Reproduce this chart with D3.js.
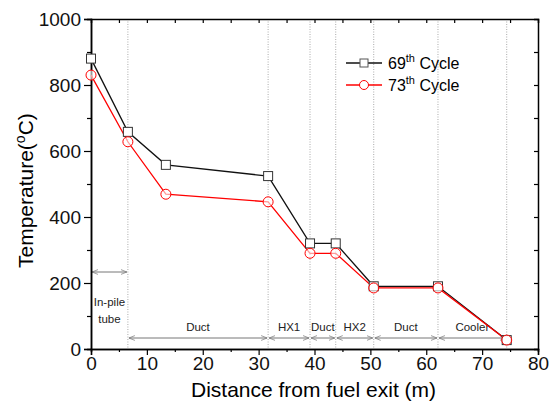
<!DOCTYPE html>
<html>
<head>
<meta charset="utf-8">
<script src="https://cdn.jsdelivr.net/npm/d3@7"></script>
<style>
  body { margin: 0; background: #fff; }
  text { font-family: "Liberation Sans", Arial, sans-serif; }
</style>
</head>
<body>
<script>
// data
var distance = [0, 6.6, 13.4, 31.7, 39.2, 43.8, 50.6, 62.1, 74.4];
var cycle69 = [880, 658, 558, 524, 320, 320, 190, 190, 27];
var cycle73 = [830, 628, 469, 446, 290, 290, 185, 185, 27];
var boundaries = [6.6, 31.7, 39.2, 43.8, 50.6, 62.1, 74.4];
var sections = [
  {from: 6.6, to: 31.7, label: "Duct"},
  {from: 31.7, to: 39.2, label: "HX1"},
  {from: 39.2, to: 43.8, label: "Duct"},
  {from: 43.8, to: 50.6, label: "HX2"},
  {from: 50.6, to: 62.1, label: "Duct"},
  {from: 62.1, to: 74.4, label: "Cooler"}
];
var xTicks = [0, 10, 20, 30, 40, 50, 60, 70, 80];
var yTicks = [0, 200, 400, 600, 800, 1000];

var width = 549, height = 405;
var margin = {left: 91, right: 11, top: 19, bottom: 56};

var svg = d3.select("body").append("svg")
    .attr("width", width)
    .attr("height", height);

svg.append("defs").append("marker")
    .attr("id", "ah")
    .attr("viewBox", "0 0 10 10")
    .attr("refX", 10).attr("refY", 5)
    .attr("markerWidth", 6).attr("markerHeight", 6)
    .attr("orient", "auto-start-reverse")
    .append("path")
    .attr("d", "M0,1 L10,5 L0,9")
    .attr("fill", "none")
    .attr("stroke", "#777")
    .attr("stroke-width", 1.2);

var x = d3.scaleLinear().domain([0, 80]).range([margin.left, width - margin.right]);
var y = d3.scaleLinear().domain([0, 1000]).range([height - margin.bottom, margin.top]);

// dotted boundaries
svg.append("g").selectAll("line")
    .data(boundaries)
    .enter().append("line")
    .attr("x1", function(d){ return x(d) }).attr("x2", function(d){ return x(d) })
    .attr("y1", y(1000)).attr("y2", y(0))
    .attr("stroke", "#aaa")
    .attr("stroke-width", 1)
    .attr("stroke-dasharray", "1,1.5");

// section arrows
var ann = svg.append("g");
ann.selectAll("line")
    .data(sections)
    .enter().append("line")
    .attr("x1", function(d){ return x(d.from) + 1 })
    .attr("x2", function(d){ return x(d.to) - 1 })
    .attr("y1", 338).attr("y2", 338)
    .attr("stroke", "#777")
    .attr("stroke-width", 1)
    .attr("marker-start", "url(#ah)")
    .attr("marker-end", "url(#ah)");

ann.selectAll("text")
    .data(sections)
    .enter().append("text")
    .attr("x", function(d){ return (x(d.from) + x(d.to)) / 2 })
    .attr("y", 331)
    .attr("text-anchor", "middle")
    .attr("font-size", 11.5)
    .attr("fill", "#222")
    .text(function(d){ return d.label });

ann.append("line")
    .attr("x1", x(0) + 1).attr("x2", x(6.6) - 1)
    .attr("y1", 272).attr("y2", 272)
    .attr("stroke", "#777")
    .attr("marker-start", "url(#ah)")
    .attr("marker-end", "url(#ah)");

ann.append("text").attr("x", x(3.3)).attr("y", 306)
    .attr("text-anchor", "middle").attr("font-size", 11.5).attr("fill", "#222")
    .text("In-pile");
ann.append("text").attr("x", x(3.3)).attr("y", 323)
    .attr("text-anchor", "middle").attr("font-size", 11.5).attr("fill", "#222")
    .text("tube");

// axes
svg.append("g")
    .attr("transform", "translate(0," + y(0) + ")")
    .call(d3.axisBottom(x).tickValues(xTicks).tickSize(6).tickPadding(2).tickFormat(d3.format("d")));
svg.append("g")
    .attr("transform", "translate(0," + y(0) + ")")
    .call(d3.axisBottom(x).tickValues(d3.range(5, 80, 10)).tickSize(3).tickFormat(""));

svg.append("g")
    .attr("transform", "translate(" + x(0) + ",0)")
    .call(d3.axisLeft(y).tickValues(yTicks).tickSize(7).tickPadding(3).tickFormat(d3.format("d")));
svg.append("g")
    .attr("transform", "translate(" + x(0) + ",0)")
    .call(d3.axisLeft(y).tickValues(d3.range(100, 1000, 200)).tickSize(4).tickFormat(""));

svg.append("g")
    .attr("transform", "translate(0," + y(1000) + ")")
    .call(d3.axisBottom(x).tickValues(d3.range(5, 80, 5)).tickSize(4).tickFormat(""));
svg.append("g")
    .attr("transform", "translate(" + x(80) + ",0)")
    .call(d3.axisLeft(y).tickValues(d3.range(100, 1000, 100)).tickSize(4).tickFormat(""));

svg.selectAll(".domain").attr("stroke-width", 1.5);
svg.selectAll(".tick line").attr("stroke-width", 1.2);
svg.selectAll(".tick text")
    .attr("font-size", 19)
    .attr("font-family", "Liberation Sans, Arial, sans-serif")
    .attr("fill", "#111");

svg.append("text")
    .attr("x", (x(0) + x(80)) / 2 - 1)
    .attr("y", 397)
    .attr("text-anchor", "middle")
    .attr("font-size", 21)
    .text("Distance from fuel exit (m)");

var yt = svg.append("text")
    .attr("transform", "translate(33," + y(480) + ") rotate(-90)")
    .attr("text-anchor", "middle")
    .attr("font-size", 21);
yt.append("tspan").text("Temperature(");
yt.append("tspan").attr("font-size", 14).attr("dy", -8).text("o");
yt.append("tspan").attr("dy", 8).text("C)");

// series
var line = d3.line()
    .x(function(d){ return x(d[0]) })
    .y(function(d){ return y(d[1]) });

var s69 = distance.map(function(d, i){ return [d, cycle69[i]] });
var s73 = distance.map(function(d, i){ return [d, cycle73[i]] });

svg.append("path").datum(s69).attr("d", line)
    .attr("fill", "none").attr("stroke", "#111").attr("stroke-width", 1.3);
svg.append("path").datum(s73).attr("d", line)
    .attr("fill", "none").attr("stroke", "red").attr("stroke-width", 1.3);

svg.append("g").selectAll("rect")
    .data(s69)
    .enter().append("rect")
    .attr("x", function(d){ return x(d[0]) - 4.5 })
    .attr("y", function(d){ return y(d[1]) - 4.5 })
    .attr("width", 9).attr("height", 9)
    .attr("fill", "white").attr("stroke", "#333").attr("stroke-width", 1);

svg.append("g").selectAll("circle")
    .data(s73)
    .enter().append("circle")
    .attr("cx", function(d){ return x(d[0]) })
    .attr("cy", function(d){ return y(d[1]) })
    .attr("r", 5)
    .attr("fill", "white").attr("fill-opacity", 0.6)
    .attr("stroke", "red").attr("stroke-width", 1);

// legend
var lg = svg.append("g").attr("transform", "translate(346,63)");
lg.append("line").attr("x1", 0).attr("x2", 36).attr("y1", 0).attr("y2", 0)
    .attr("stroke", "#111").attr("stroke-width", 1.3);
lg.append("rect").attr("x", 14).attr("y", -4).attr("width", 8).attr("height", 8)
    .attr("fill", "white").attr("stroke", "#555");
lg.append("line").attr("x1", 0).attr("x2", 36).attr("y1", 22).attr("y2", 22)
    .attr("stroke", "red").attr("stroke-width", 1.3);
lg.append("circle").attr("cx", 18).attr("cy", 22).attr("r", 4.5)
    .attr("fill", "white").attr("stroke", "red");

[["69", 0], ["73", 22]].forEach(function(d){
  var t = lg.append("text").attr("x", 42).attr("y", d[1] + 6).attr("font-size", 16);
  t.append("tspan").text(d[0]);
  t.append("tspan").attr("font-size", 11).attr("dy", -7).text("th");
  t.append("tspan").attr("dy", 7).text(" Cycle");
});
</script>
</body>
</html>
